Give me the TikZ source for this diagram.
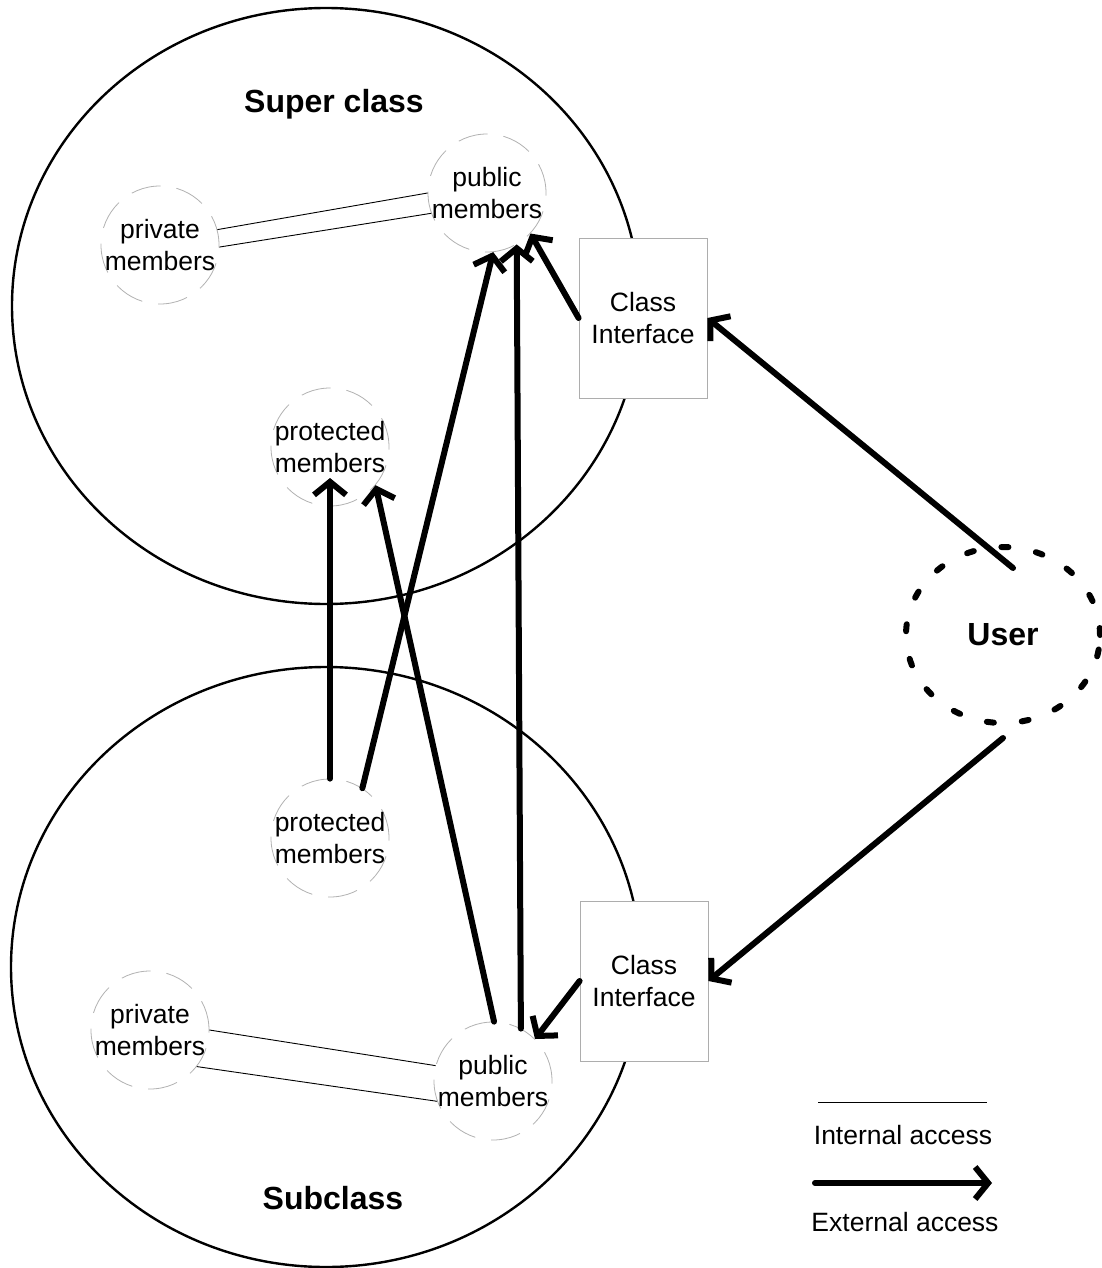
\documentclass[tikz,border=0pt]{standalone}
\usepackage{fontspec}
\setmainfont{Liberation Sans}
\usetikzlibrary{arrows.meta,shapes.geometric,calc}
\begin{document}
\begin{tikzpicture}[x=1pt,y=-1pt,
  classring/.style={ellipse, draw, line width=2.4pt, inner sep=0pt},
  classtitle/.style={font=\fontsize{32}{38}\selectfont\bfseries},
  member/.style={circle, minimum size=118pt, inner sep=0pt, draw=black!30,
    line width=0.8pt, dash pattern=on 30pt off 16pt},
  memtext/.style={align=center, font=\fontsize{26.5}{32}\selectfont},
  iface/.style={rectangle, minimum width=128pt, minimum height=160pt, fill=white,
    draw=black!32, line width=0.8pt, align=center, font=\fontsize{26.5}{32}\selectfont},
  intline/.style={line width=0.9pt},
  extarrow/.style={line width=6pt, line cap=round, line join=round,
    -{Straight Barb[length=13pt,width=32pt]}},
  userring/.style={ellipse, minimum width=194pt, minimum height=176pt, draw,
    line width=6pt, line cap=round, dash pattern=on 7pt off 28pt,
    font=\fontsize{32}{38}\selectfont\bfseries},
  legendtext/.style={font=\fontsize{26.5}{32}\selectfont},
]
\useasboundingbox (0,0) rectangle (1102,1268);
\fill[white] (0,0) rectangle (1102,1268);

% the two classes
\node[classring, minimum width=628pt, minimum height=596pt] (sup) at (326,306) {};
\node[classring, minimum width=630pt, minimum height=600pt] (sub) at (326,967) {};
\node[classtitle] (suptitle) at (334,104) {Super class};
\node[classtitle] (subtitle) at (333,1198) {Subclass};

% class interfaces
\node[iface] (ifA) at (643,318) {Class\\Interface};
\node[iface] (ifB) at (644,981) {Class\\Interface};

% members of the super class
\node[member, label={[memtext]center:{private\\members}}] (privA) at (160,245) {};
\node[member, label={[memtext]center:{public\\members}}] (pubA) at (487,193) {};
\node[member, label={[memtext]center:{protected\\members}}] (protA) at (330,447) {};

% members of the subclass
\node[member, label={[memtext]center:{protected\\members}}] (protB) at (330,838) {};
\node[member, label={[memtext]center:{private\\members}}] (privB) at (150,1030) {};
\node[member, label={[memtext]center:{public\\members}}] (pubB) at (493,1081) {};

% user
\node[userring] (user) at (1003,635) {User};

% internal access
\draw[intline] (privA.15) -- (pubA.180);
\draw[intline] (privA.358) -- (pubA.200);
\draw[intline] (privB.0) -- (pubB.165);
\draw[intline] (privB.322) -- (pubB.200);

% external access
\draw[extarrow] (protB.90) -- ($(protA.center)+(0,31)$);
\draw[extarrow] (protB.57) -- (pubA.276);
\draw[extarrow] (pubB.89) -- (protA.320);
\draw[extarrow] (pubB.62) -- (pubA.300);
\draw[extarrow] (ifA.west) -- (pubA.317);
\draw[extarrow] ($(user.center)+(10,-67)$) -- (ifA.east);
\draw[extarrow] ($(user.center)+(0,103)$) -- (ifB.east);
\draw[extarrow] (ifB.west) -- (pubB.45);

% legend
\coordinate (li1) at (818,1102);
\coordinate (li2) at (987,1102);
\draw[intline] (li1) -- (li2);
\node[legendtext] (litext) at (903,1135) {Internal access};
\coordinate (le1) at (815,1183);
\coordinate (le2) at (992,1183);
\draw[extarrow] (le1) -- (le2);
\node[legendtext] (letext) at (905,1222) {External access};
\end{tikzpicture}
\end{document}
